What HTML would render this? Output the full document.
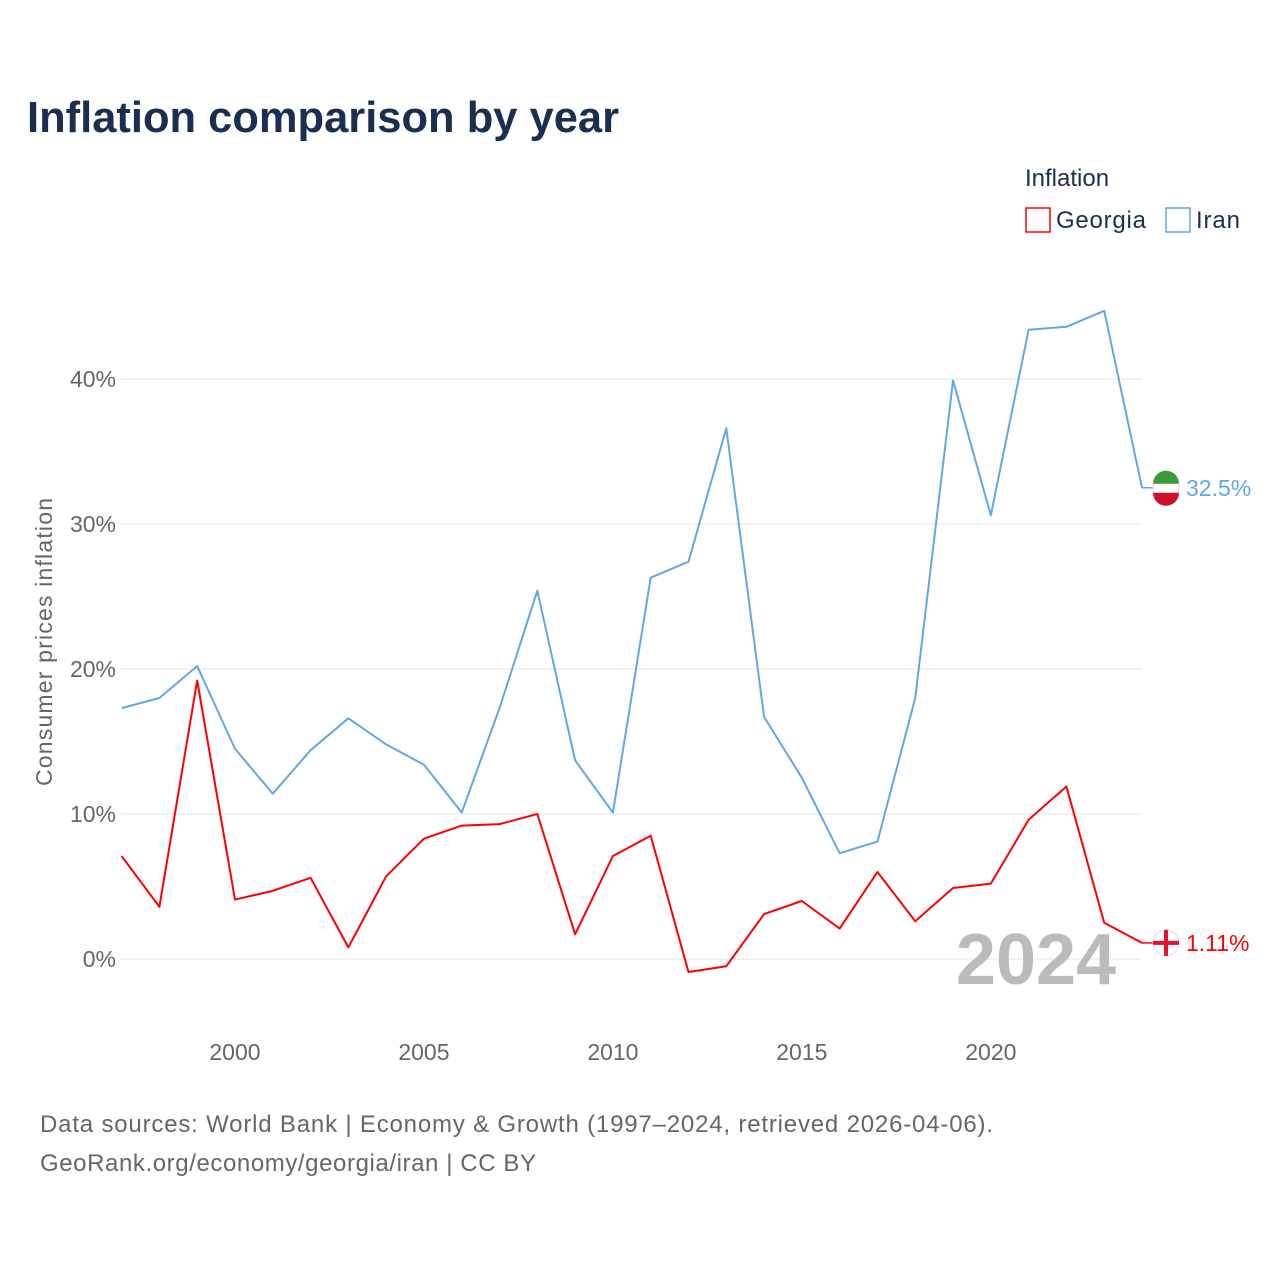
<!DOCTYPE html>
<html><head><meta charset="utf-8"><style>
body{margin:0;width:1280px;height:1280px;background:#fff;font-family:"Liberation Sans",sans-serif;overflow:hidden}
svg text{font-family:"Liberation Sans",sans-serif}
</style></head><body>
<svg width="1280" height="1280">
<text x="27" y="132" font-size="44" font-weight="bold" fill="#1a2e4f" textLength="592" lengthAdjust="spacingAndGlyphs">Inflation comparison by year</text>
<text x="1025" y="186" font-size="24" fill="#1a2e4f">Inflation</text>
<g><rect x="1026" y="208" width="24" height="24" fill="none" stroke="#f00" stroke-width="1.5"/><text x="1056" y="228" font-size="24" fill="#1a2e4f" textLength="90">Georgia</text></g>
<g><rect x="1166" y="208" width="24" height="24" fill="none" stroke="#5ea8ea" stroke-width="1.5"/><text x="1196" y="228" font-size="24" fill="#1a2e4f" textLength="44">Iran</text></g>
<g id="grid"></g>
<text x="1036" y="984" font-size="72" font-weight="bold" fill="#bbb" text-anchor="middle">2024</text>
<g id="series"></g>
<text transform="translate(52,642) rotate(-90)" font-size="23" fill="#666" text-anchor="middle" textLength="288">Consumer prices inflation</text>
<text x="40" y="1132" font-size="24" fill="#666" textLength="953">Data sources: World Bank | Economy &amp; Growth (1997–2024, retrieved 2026-04-06).</text>
<text x="40" y="1171" font-size="24" fill="#666" textLength="496">GeoRank.org/economy/georgia/iran | CC BY</text>
</svg>
<script>
const years=[1997,1998,1999,2000,2001,2002,2003,2004,2005,2006,2007,2008,2009,2010,2011,2012,2013,2014,2015,2016,2017,2018,2019,2020,2021,2022,2023,2024];
const iran=[17.3,18.0,20.2,14.5,11.4,14.4,16.6,14.8,13.4,10.1,17.3,25.4,13.7,10.1,26.3,27.4,36.6,16.7,12.5,7.3,8.1,18.0,39.9,30.6,43.4,43.6,44.7,32.5];
const georgia=[7.1,3.6,19.2,4.1,4.7,5.6,0.8,5.7,8.3,9.2,9.3,10.0,1.7,7.1,8.5,-0.9,-0.5,3.1,4.0,2.1,6.0,2.6,4.9,5.2,9.6,11.9,2.5,1.11];
const yTicks=[0,10,20,30,40];
const xTicks=[2000,2005,2010,2015,2020];
const NS="http://www.w3.org/2000/svg";
const X=y=>121.6+(y-1997)*(1142-121.6)/27;
const Y=v=>959-v*14.5;
const grid=document.getElementById('grid'),ser=document.getElementById('series');
function mk(tag,attrs,parent,txt){const e=document.createElementNS(NS,tag);for(const k in attrs)e.setAttribute(k,attrs[k]);if(txt!==undefined)e.textContent=txt;parent.appendChild(e);return e;}
yTicks.forEach(t=>{
 const l=mk('line',{x1:121,x2:1142,y1:Y(t),y2:Y(t),stroke:'#e6e6e6','stroke-width':1},grid);
 
 
 const tx=mk('text',{x:116,y:Y(t)+8,'font-size':23,fill:'#666','text-anchor':'end'},grid,t+'%');
 
 
});
xTicks.forEach(t=>{
 const tx=mk('text',{x:X(t),y:1060,'font-size':23,fill:'#666','text-anchor':'middle'},grid,String(t));
 
 
});
function series(vals,color,name,label){
 const p=mk('polyline',{points:vals.map((v,i)=>X(years[i])+','+Y(v)).join(' '),fill:'none',stroke:color,'stroke-width':2,'stroke-linejoin':'round'},ser);
 
 
 const last=vals[vals.length-1],ly=Y(last);
 mk('line',{x1:1142,x2:1156,y1:ly,y2:ly,stroke:color,'stroke-width':1.5},ser);
 const c=mk('circle',{cx:1166,cy:ly,r:13,fill:'#fff',stroke:'#ddd'},ser);
 
 
 if(name==='iran'){mk('path',{d:`M1153 ${ly-4} A13 13 0 0 1 1179 ${ly-4} Z`,fill:'#3a9a3a'},ser);mk('path',{d:`M1153 ${ly+5} A13 13 0 0 0 1179 ${ly+5} Z`,fill:'#d0102a'},ser);}
 else{mk('rect',{x:1164,y:ly-13,width:4,height:26,fill:'#e8112d'},ser);mk('rect',{x:1153,y:ly-2,width:26,height:4,fill:'#e8112d'},ser);}
 const t=mk('text',{x:1186,y:ly+8,'font-size':23,fill:color},ser,label);
 
 
}
series(iran,'#5ea8ea','iran','32.5%');
series(georgia,'#f00','georgia','1.11%');
</script>
</body></html>
